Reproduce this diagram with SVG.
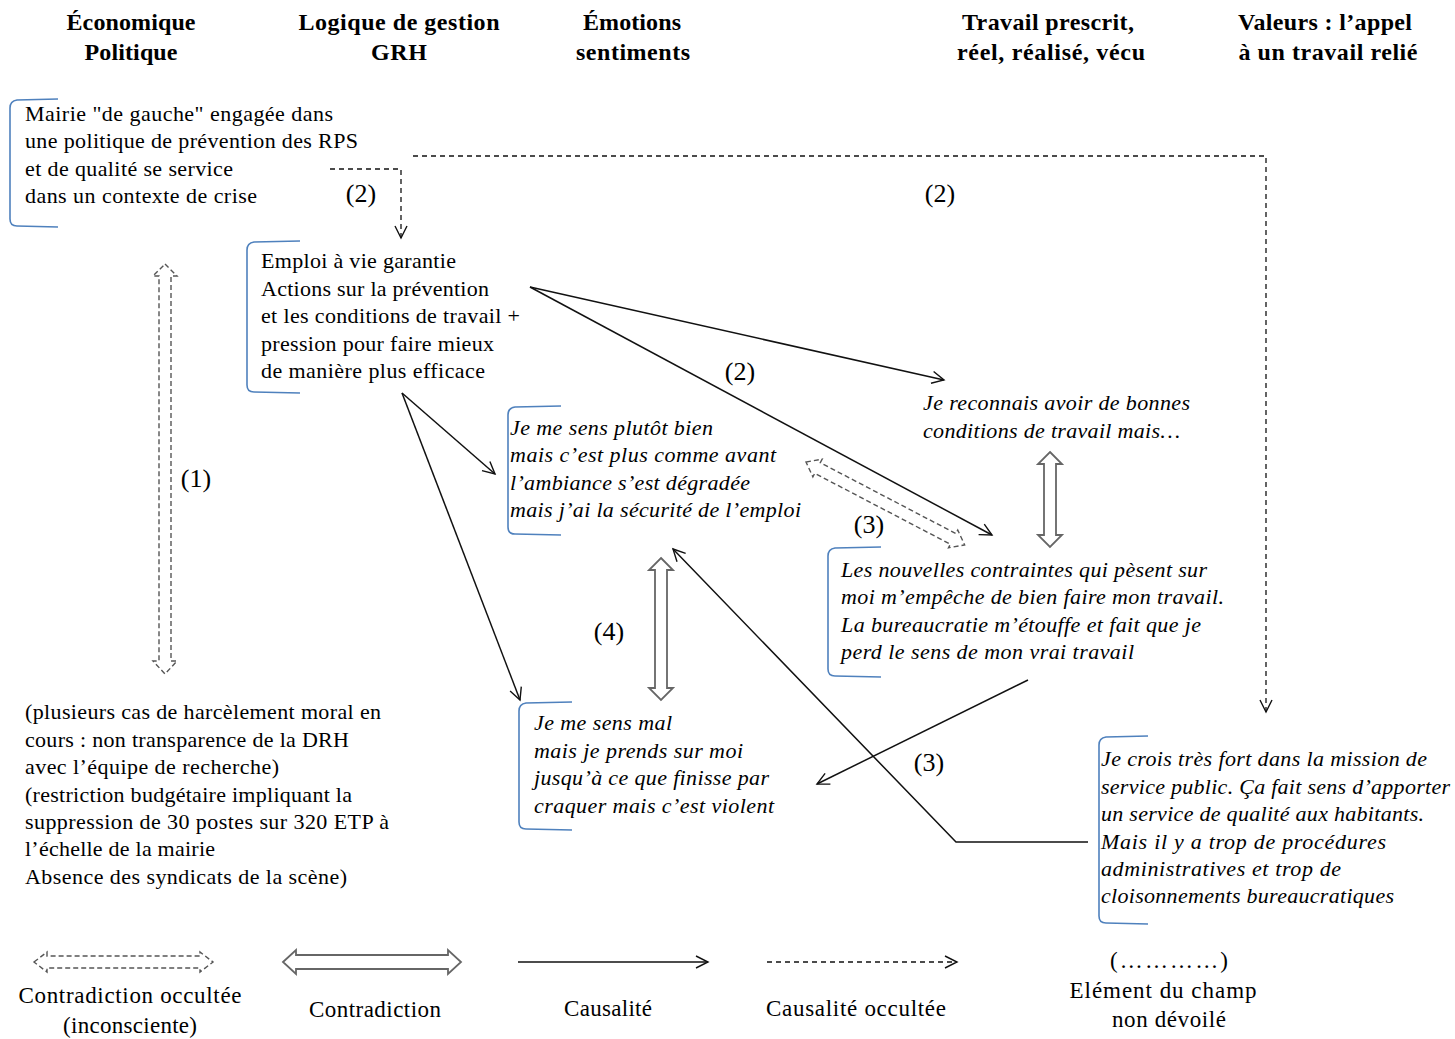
<svg xmlns="http://www.w3.org/2000/svg" width="1455" height="1039" viewBox="0 0 1455 1039">
<defs>
<style>
text{font-family:"Liberation Serif","Times New Roman",serif;fill:#000}
.h{font-size:24px;font-weight:bold;text-anchor:middle}
.b{font-size:22px}
.i{font-size:22px;font-style:italic}
.n{font-size:26px;text-anchor:middle}
.lg{font-size:23px;text-anchor:middle}
.br{fill:none;stroke:#4f81bd;stroke-width:1.6}
.ar{fill:none;stroke:#111;stroke-width:1.5}
.da{fill:none;stroke:#111;stroke-width:1.3;stroke-dasharray:5,4}
.dh{fill:#fff;stroke:#555;stroke-width:1.4;stroke-dasharray:5,3}
.sh{fill:#fff;stroke:#666;stroke-width:1.8}
</style>
<marker id="v" markerUnits="userSpaceOnUse" markerWidth="16" markerHeight="16" refX="13" refY="7" orient="auto">
<path d="M1,1 L13,7 L1,13" fill="none" stroke="#111" stroke-width="1.4"/>
</marker>
</defs>
<rect width="1455" height="1039" fill="#fff"/>

<g id="headers">
<text class="h" x="131" y="30" textLength="129">Économique</text>
<text class="h" x="131" y="60" textLength="93">Politique</text>
<text class="h" x="399" y="30" textLength="201">Logique de gestion</text>
<text class="h" x="399" y="60" textLength="56">GRH</text>
<text class="h" x="632" y="30" textLength="98">Émotions</text>
<text class="h" x="633" y="60" textLength="114">sentiments</text>
<text class="h" x="1048" y="30" textLength="172">Travail prescrit,</text>
<text class="h" x="1051" y="60" textLength="188">réel, réalisé, vécu</text>
<text class="h" x="1325" y="30" textLength="174">Valeurs : l’appel</text>
<text class="h" x="1328" y="60" textLength="179">à un travail relié</text>
</g>

<g id="connectors">
<path class="da" d="M330,169 L401,169 L401,238" marker-end="url(#v)"/>
<path class="da" d="M413,156 L1266,156 L1266,712" marker-end="url(#v)"/>
<path class="ar" d="M530,287 L944,380" marker-end="url(#v)"/>
<path class="ar" d="M530,287 L992,535" marker-end="url(#v)"/>
<path class="ar" d="M402,393 L495,474" marker-end="url(#v)"/>
<path class="ar" d="M402,393 L520,700" marker-end="url(#v)"/>
<path class="ar" d="M1028,680 L817,784" marker-end="url(#v)"/>
<path class="ar" d="M1088,842 L956,842 L673,549" marker-end="url(#v)"/>
<path class="dh" d="M165,264 L177,276 L171,276 L171,661 L177,661 L165,674 L153,661 L159,661 L159,276 L153,276 Z"/>
<path class="dh" transform="translate(806,462) rotate(27.6)" d="M0,0 L13,-10 L13,-6 L166,-6 L166,-10 L179,0 L166,10 L166,6 L13,6 L13,10 Z"/>
<path class="sh" d="M1050,452 L1062,464 L1056,464 L1056,535 L1062,535 L1050,547 L1038,535 L1044,535 L1044,464 L1038,464 Z"/>
<path class="sh" d="M661,558 L673,570 L667,570 L667,688 L673,688 L661,700 L649,688 L655,688 L655,570 L649,570 Z"/>
<text class="n" x="361" y="202">(2)</text>
<text class="n" x="940" y="202">(2)</text>
<text class="n" x="196" y="487">(1)</text>
<text class="n" x="740" y="380">(2)</text>
<text class="n" x="869" y="533">(3)</text>
<text class="n" x="609" y="640">(4)</text>
<text class="n" x="929" y="771">(3)</text>
</g>

<g id="n1">
<path class="br" d="M58,99 L17,100 Q10,101 10,108 L10,219 Q10,226 17,226 L58,227"/>
<text class="b" x="25" y="121" textLength="308">Mairie "de gauche" engagée dans</text>
<text class="b" x="25" y="148" textLength="333">une politique  de prévention des RPS</text>
<text class="b" x="25" y="176" textLength="208">et de qualité  se service</text>
<text class="b" x="25" y="203" textLength="232">dans un contexte de crise</text>
</g>

<g id="n2">
<path class="br" d="M300,241 L254,242 Q247,243 247,250 L247,385 Q247,392 254,392 L300,393"/>
<text class="b" x="261" y="268" textLength="195">Emploi  à vie garantie</text>
<text class="b" x="261" y="296" textLength="228">Actions sur la prévention</text>
<text class="b" x="261" y="323" textLength="259">et les conditions de travail  +</text>
<text class="b" x="261" y="351" textLength="233">pression pour faire mieux</text>
<text class="b" x="261" y="378" textLength="224">de manière plus efficace</text>
</g>

<g id="n3">
<path class="br" d="M561,406 L515,407 Q508,408 508,415 L508,527 Q508,534 515,534 L561,535"/>
<text class="i" x="510" y="435" textLength="203">Je me sens plutôt bien</text>
<text class="i" x="510" y="462" textLength="266">mais c’est plus comme avant</text>
<text class="i" x="510" y="490" textLength="240">l’ambiance s’est dégradée</text>
<text class="i" x="510" y="517" textLength="291">mais j’ai la sécurité de l’emploi</text>
</g>

<g id="n4">
<text class="i" x="923" y="410" textLength="267">Je reconnais  avoir de bonnes</text>
<text class="i" x="923" y="438" textLength="257">conditions de travail mais…</text>
</g>

<g id="n5">
<path class="br" d="M881,547 L835,548 Q828,549 828,556 L828,669 Q828,676 835,676 L881,677"/>
<text class="i" x="841" y="577" textLength="366">Les nouvelles contraintes qui pèsent sur</text>
<text class="i" x="841" y="604" textLength="383">moi m’empêche de bien faire mon travail.</text>
<text class="i" x="841" y="632" textLength="360">La bureaucratie m’étouffe et fait que je</text>
<text class="i" x="841" y="659" textLength="293">perd  le sens  de mon vrai travail</text>
</g>

<g id="n6">
<path class="br" d="M572,702 L526,703 Q519,704 519,711 L519,822 Q519,829 526,829 L572,830"/>
<text class="i" x="534" y="730" textLength="138">Je me sens  mal</text>
<text class="i" x="534" y="758" textLength="209">mais je prends sur moi</text>
<text class="i" x="534" y="785" textLength="235">jusqu’à ce que finisse par</text>
<text class="i" x="534" y="813" textLength="240">craquer mais c’est violent</text>
</g>

<g id="n7">
<path class="br" d="M1148,736 L1106,737 Q1099,738 1099,745 L1099,916 Q1099,923 1106,923 L1148,924"/>
<text class="i" x="1101" y="766" textLength="326">Je crois très fort dans la mission de</text>
<text class="i" x="1101" y="794" textLength="349">service public. Ça fait sens d’apporter</text>
<text class="i" x="1101" y="821" textLength="323">un service de qualité aux habitants.</text>
<text class="i" x="1101" y="849" textLength="285">Mais il y  a  trop de procédures</text>
<text class="i" x="1101" y="876" textLength="240">administratives  et  trop de</text>
<text class="i" x="1101" y="903" textLength="293">cloisonnements  bureaucratiques</text>
</g>

<g id="n8">
<text class="b" x="25" y="719" textLength="356">(plusieurs cas de harcèlement moral en</text>
<text class="b" x="25" y="747" textLength="324">cours : non transparence de la DRH</text>
<text class="b" x="25" y="774" textLength="254">avec l’équipe de recherche)</text>
<text class="b" x="25" y="802" textLength="327">(restriction budgétaire  impliquant  la</text>
<text class="b" x="25" y="829" textLength="364">suppression de 30 postes sur 320 ETP à</text>
<text class="b" x="25" y="856" textLength="190">l’échelle  de la mairie</text>
<text class="b" x="25" y="884" textLength="322">Absence des syndicats de la scène)</text>
</g>

<g id="legend">
<path class="dh" d="M34,962 L47,952 L47,956 L200,956 L200,952 L213,962 L200,972 L200,968 L47,968 L47,972 Z"/>
<text class="lg" x="130" y="1003" textLength="223">Contradiction  occultée</text>
<text class="lg" x="130" y="1033" textLength="134">(inconsciente)</text>
<path class="sh" d="M283,962 L296,950 L296,955 L448,955 L448,950 L461,962 L448,974 L448,969 L296,969 L296,974 Z"/>
<text class="lg" x="375" y="1017" textLength="132">Contradiction</text>
<path class="ar" d="M518,962 L708,962" marker-end="url(#v)"/>
<text class="lg" x="608" y="1016" textLength="88">Causalité</text>
<path class="da" d="M767,962 L957,962" marker-end="url(#v)"/>
<text class="lg" x="856" y="1016" textLength="180">Causalité  occultée</text>
<text class="lg" x="1169" y="968" textLength="118">(…………)</text>
<text class="lg" x="1163" y="998" textLength="187">Elément  du champ</text>
<text class="lg" x="1169" y="1027" textLength="114">non dévoilé</text>
</g>
</svg>
